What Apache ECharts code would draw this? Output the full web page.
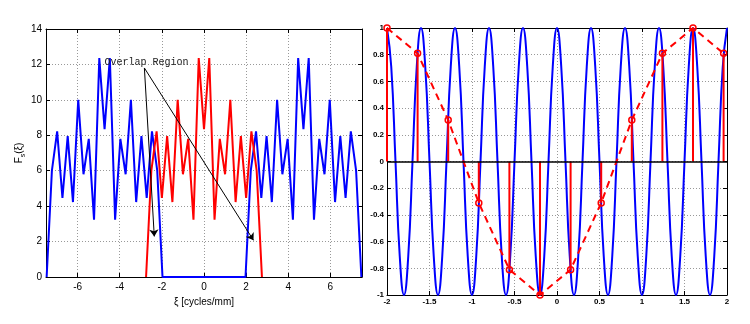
<!DOCTYPE html>
<html><head><meta charset="utf-8">
<script src="https://cdn.jsdelivr.net/npm/echarts@6/dist/echarts.min.js"></script>
<style>html,body{margin:0;padding:0;background:#fff}#c{width:750px;height:324px}</style>
</head><body><div id="c"></div><script>
// ---- Left panel: spectra ----
const redX = [-2.75,-2.5,-2.25,-2,-1.75,-1.5,-1.25,-1,-0.75,-0.5,-0.25,0,0.25,0.5,0.75,1,1.25,1.5,1.75,2,2.25,2.5,2.75];
const redY = [0,6.0,8.22,4.46,7.95,4.23,10.0,5.8,7.8,3.24,12.36,8.35,12.36,3.24,7.8,5.8,10.0,4.23,7.95,4.46,8.22,6.0,0];
const blueX = [-7.47,-7.22,-6.97,-6.72,-6.47,-6.22,-5.97,-5.72,-5.47,-5.22,-4.97,-4.72,-4.47,-4.22,-3.97,-3.72,-3.47,-3.22,-2.97,-2.72,-2.47,-2.22,-1.97,
               1.97,2.22,2.47,2.72,2.97,3.22,3.47,3.72,3.97,4.22,4.47,4.72,4.97,5.22,5.47,5.72,5.97,6.22,6.47,6.72,6.97,7.22,7.47];
const blueY = [0,6.0,8.22,4.46,7.95,4.23,10.0,5.8,7.8,3.24,12.36,8.35,12.36,3.24,7.8,5.8,10.0,4.23,7.95,4.46,8.22,6.0,0,
               0,6.0,8.22,4.46,7.95,4.23,10.0,5.8,7.8,3.24,12.36,8.35,12.36,3.24,7.8,5.8,10.0,4.23,7.95,4.46,8.22,6.0,0];
const leftXTicks = [-6,-4,-2,0,2,4,6];
const leftYTicks = [0,2,4,6,8,10,12,14];
const annotText = 'Overlap Region';
const xNameLeft = 'ξ [cycles/mm]';

// ---- Right panel: cosine and samples ----
const cosX = [-2,-1.95,-1.9,-1.85,-1.8,-1.75,-1.7,-1.65,-1.6,-1.55,-1.5,-1.45,-1.4,-1.35,-1.3,-1.25,-1.2,-1.15,-1.1,-1.05,
  -1,-0.95,-0.9,-0.85,-0.8,-0.75,-0.7,-0.65,-0.6,-0.55,-0.5,-0.45,-0.4,-0.35,-0.3,-0.25,-0.2,-0.15,-0.1,-0.05,
  0,0.05,0.1,0.15,0.2,0.25,0.3,0.35,0.4,0.45,0.5,0.55,0.6,0.65,0.7,0.75,0.8,0.85,0.9,0.95,
  1,1.05,1.1,1.15,1.2,1.25,1.3,1.35,1.4,1.45,1.5,1.55,1.6,1.65,1.7,1.75,1.8,1.85,1.9,1.95,2];
const cosY = [1,0.71,0,-0.71,-1,-0.71,0,0.71, 1,0.71,0,-0.71,-1,-0.71,0,0.71, 1,0.71,0,-0.71,-1,-0.71,0,0.71,
  1,0.71,0,-0.71,-1,-0.71,0,0.71, 1,0.71,0,-0.71,-1,-0.71,0,0.71, 1,0.71,0,-0.71,-1,-0.71,0,0.71,
  1,0.71,0,-0.71,-1,-0.71,0,0.71, 1,0.71,0,-0.71,-1,-0.71,0,0.71, 1,0.71,0,-0.71,-1,-0.71,0,0.71,
  1,0.71,0,-0.71,-1,-0.71,0,0.71, 1];
const sampX = [-2,-1.64,-1.28,-0.92,-0.56,-0.2,0.16,0.52,0.88,1.24,1.6,1.96];
const sampY = [1,0.81,0.31,-0.31,-0.81,-1,-0.81,-0.31,0.31,0.81,1,0.81];

const zip = (a,b)=>a.map((v,i)=>[v,b[i]]);
const FONT = 'Liberation Sans, Arial, sans-serif';
const boxLine = {show:true, onZero:false, lineStyle:{color:'#000', width:1}};

function mainX(idx, min, max, extra){
  return Object.assign({type:'value', gridIndex:idx, position:'bottom', min, max, axisLine:boxLine,
    axisTick:{show:true, inside:true, length:4, lineStyle:{color:'#000'}},
    splitLine:{show:true, lineStyle:{color:'#999', type:[1,2], width:1}},
    axisLabel:{color:'#000', fontFamily:FONT}}, extra);
}
const chart = echarts.init(document.getElementById('c'), null, {renderer:'canvas'});
chart.setOption({
  animation:false,
  backgroundColor:'#fff',
  grid:[{left:46, top:29, width:316, height:248},{left:387, top:28, width:340, height:267}],
  xAxis:[
    mainX(0,-7.5,7.5,{axisTick:{show:true,inside:true,length:4,customValues:leftXTicks,lineStyle:{color:'#000'}},
      axisLabel:{customValues:leftXTicks,color:'#000',fontFamily:FONT,fontSize:10,margin:5},
      name:xNameLeft, nameLocation:'middle', nameGap:17, nameTextStyle:{color:'#000',fontFamily:FONT,fontSize:10}}),
    {type:'value', gridIndex:0, position:'top', min:-7.5, max:7.5, axisLine:boxLine,
      axisTick:{show:true,inside:true,length:4,customValues:leftXTicks,lineStyle:{color:'#000'}}, axisLabel:{show:false}, splitLine:{show:false}},
    mainX(1,-2,2,{interval:0.5, axisLabel:{color:'#000',fontFamily:FONT,fontSize:8,margin:3,fontWeight:'bold'}}),
    {type:'value', gridIndex:1, position:'top', min:-2, max:2, interval:0.5, axisLine:boxLine,
      axisTick:{show:true,inside:true,length:4,lineStyle:{color:'#000'}}, axisLabel:{show:false}, splitLine:{show:false}}
  ],
  yAxis:[
    {type:'value', gridIndex:0, position:'left', min:0, max:14, interval:2, axisLine:boxLine,
      axisTick:{show:true,inside:true,length:4,lineStyle:{color:'#000'}},
      splitLine:{show:true,lineStyle:{color:'#999',type:[1,2],width:1}},
      axisLabel:{color:'#000',fontFamily:FONT,fontSize:10,margin:4},
      name:'{a|F}{b|s}{a|(ξ)}', nameLocation:'middle', nameRotate:90, nameGap:19,
      nameTextStyle:{rich:{a:{fontFamily:FONT,fontSize:10,color:'#000',lineHeight:16,verticalAlign:'middle'},
                           b:{fontFamily:FONT,fontSize:7,color:'#000',lineHeight:16,verticalAlign:'bottom'}}}},
    {type:'value', gridIndex:0, position:'right', min:0, max:14, interval:2, axisLine:boxLine,
      axisTick:{show:true,inside:true,length:4,lineStyle:{color:'#000'}}, axisLabel:{show:false}, splitLine:{show:false}},
    {type:'value', gridIndex:1, position:'left', min:-1, max:1, interval:0.2, axisLine:boxLine,
      axisTick:{show:true,inside:true,length:4,lineStyle:{color:'#000'}},
      splitLine:{show:true,lineStyle:{color:'#999',type:[1,2],width:1}},
      axisLabel:{color:'#000',fontFamily:FONT,fontSize:8,margin:3,fontWeight:'bold'}},
    {type:'value', gridIndex:1, position:'right', min:-1, max:1, interval:0.2, axisLine:boxLine,
      axisTick:{show:true,inside:true,length:4,lineStyle:{color:'#000'}}, axisLabel:{show:false}, splitLine:{show:false}}
  ],
  series:[
    {type:'line', xAxisIndex:0, yAxisIndex:0, data:zip(blueX,blueY), showSymbol:false, symbol:'none',
      lineStyle:{color:'#0000ff', width:2}, z:2},
    {type:'line', xAxisIndex:0, yAxisIndex:0, data:zip(redX,redY), showSymbol:false, symbol:'none',
      lineStyle:{color:'#ff0000', width:2}, z:3,
      markLine:{silent:true, symbol:['none','arrow'], symbolSize:7, label:{show:false},
        lineStyle:{color:'#000', width:1, type:'solid'},
        data:[[{coord:[-2.83,11.8]},{coord:[-2.36,2.29]}],[{coord:[-2.83,11.8]},{coord:[2.35,2.07]}]]},
      markPoint:{silent:true, symbol:'circle', symbolSize:1, itemStyle:{color:'rgba(0,0,0,0)'},
        label:{show:true, position:'right', distance:0, formatter:annotText, color:'#222',
          fontFamily:'Courier New, Liberation Mono, monospace', fontSize:10},
        data:[{coord:[-4.75,12.1]}]}},
    {type:'line', xAxisIndex:2, yAxisIndex:2, data:zip(cosX,cosY), showSymbol:false, symbol:'none', smooth:0.5,
      lineStyle:{color:'#0000ff', width:2}, z:2},
    {type:'custom', xAxisIndex:2, yAxisIndex:2, data:zip(sampX,sampY), z:3,
      renderItem:function(params, api){
        const x=api.value(0), y=api.value(1);
        const p0=api.coord([x,0]), p1=api.coord([x,y]);
        return {type:'line', shape:{x1:p0[0],y1:p0[1],x2:p1[0],y2:p1[1]}, style:{stroke:'#ff0000', lineWidth:2}};
      }},
    {type:'line', xAxisIndex:2, yAxisIndex:2, data:zip(sampX,sampY), symbol:'circle', symbolSize:6, showSymbol:true,
      itemStyle:{color:'rgba(255,255,255,0)', borderColor:'#ff0000', borderWidth:1.5},
      lineStyle:{color:'#ff0000', width:2, type:[7,5]}, z:4,
      markLine:{silent:true, symbol:['none','none'], label:{show:false},
        lineStyle:{color:'#000', width:1.5, type:'solid'}, data:[{yAxis:0}]}}
  ]
});
</script></body></html>
